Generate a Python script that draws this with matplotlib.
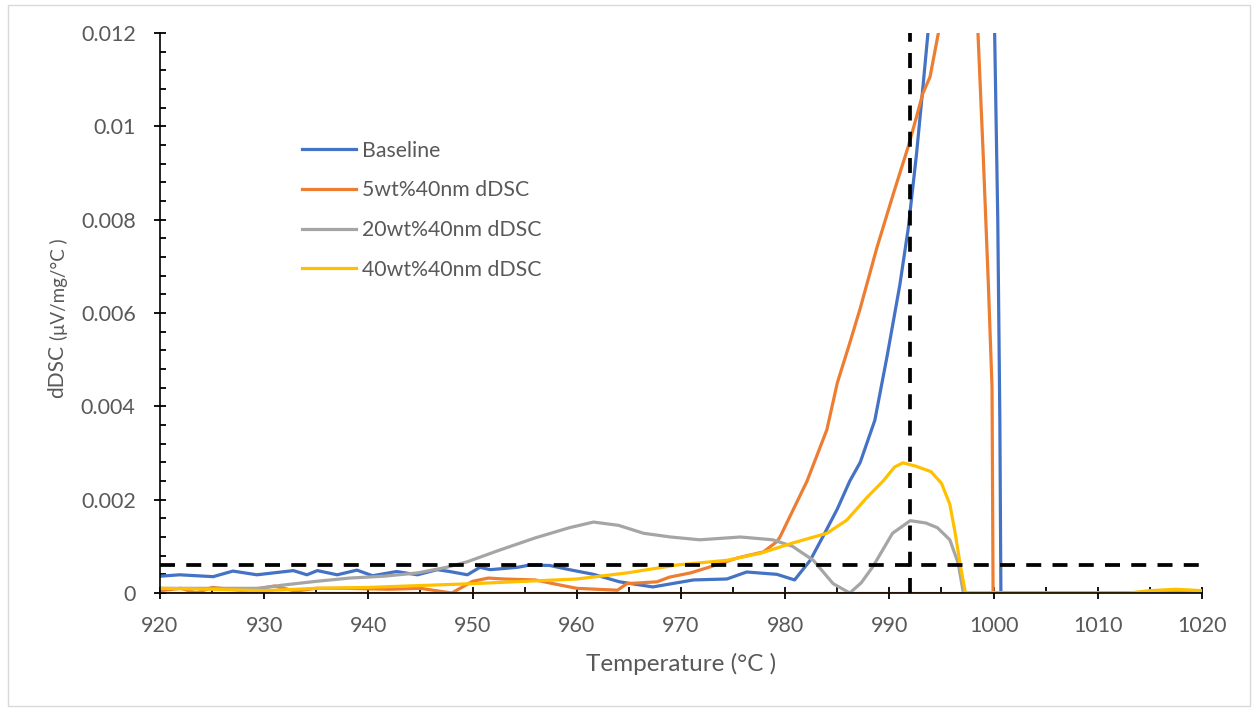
import matplotlib.pyplot as plt
from matplotlib.patches import Rectangle
from matplotlib.ticker import MultipleLocator

# data (temperature in degC, dDSC in uV/mg/degC)
base_t = [920, 921.9, 925.1, 927.0, 929.3, 932.8, 934.1, 935.1, 937.0, 938.9, 940.4, 942.7,
          944.7, 946.6, 947.8, 949.5, 950.7, 951.7, 954.3, 955.5, 957.4, 959.3, 961.6, 964.1,
          967.3, 971.2, 974.4, 976.3, 979.2, 980.9, 982.4, 983.6, 985.0, 986.2, 987.2, 988.6,
          989.8, 991.0, 991.8, 992.6, 993.2, 993.7, 994.5, 997.0, 999.6, 1000.1, 1000.4,
          1000.6, 1000.7, 1020]
base_y = [0.00036, 0.00039, 0.00035, 0.00047, 0.00039, 0.00048, 0.00039, 0.00048, 0.00039,
          0.00049, 0.00037, 0.00046, 0.00039, 0.00050, 0.00046, 0.00039, 0.00055, 0.00050,
          0.00055, 0.00060, 0.00059, 0.00050, 0.00040, 0.00024, 0.00013, 0.00028, 0.00030,
          0.00045, 0.00040, 0.00028, 0.00070, 0.00120, 0.00180, 0.00240, 0.00280, 0.00370,
          0.00510, 0.00660, 0.00780, 0.00940, 0.01080, 0.01200, 0.01500, 0.02000, 0.01600,
          0.01200, 0.00800, 0.00370, 0.0, 0.0]

w5_t = [920, 922, 923.5, 925, 928, 931, 933, 935, 938, 942, 945, 948, 950, 951.5, 953, 956,
        958.4, 960, 963.9, 964.8, 967.7, 968.9, 970.9, 972.8, 975.4, 977.9, 979.2, 979.5,
        982.1, 984, 985, 986.2, 987.2, 988.8, 990.4, 991.8, 992.6, 993.2, 993.9, 994.7,
        995.5, 997, 998.0, 998.5, 999.0, 999.5, 999.85, 999.95, 1020]
w5_y = [0.00005, 0.0001, 0.0, 0.00012, 0.00005, 0.00015, 0.00004, 0.0001, 0.0001, 0.00008,
        0.0001, 0.0, 0.00025, 0.00032, 0.0003, 0.00028, 0.00017, 0.0001, 0.00006, 0.0002,
        0.00024, 0.00034, 0.00043, 0.00056, 0.00075, 0.00088, 0.0011, 0.0012, 0.0024, 0.0035,
        0.0045, 0.00536, 0.0061, 0.0074, 0.00857, 0.00956, 0.0102, 0.0107, 0.01106, 0.0120,
        0.0150, 0.0200, 0.0160, 0.0120, 0.0094, 0.0066, 0.0044, 0.0, 0.0]
w5_floor_t = [920, 1020]
w5_floor_y = [0.0, 0.0]

w20_t = [920, 925, 929.6, 931.8, 935, 938.2, 941.5, 944.7, 947.5, 949.5, 952.6, 956, 959.3,
         961.6, 964, 966.4, 969, 971.8, 975.7, 978.8, 980.7, 982.7, 984.6, 986.2, 987.3, 988.4,
         990.3, 992.0, 993.5, 994.6, 995.8, 996.6, 997.1, 1014, 1017, 1020]
w20_y = [0.0001, 0.0001, 0.0001, 0.00017, 0.00025, 0.00032, 0.00036, 0.00043, 0.00055,
         0.00067, 0.00092, 0.00118, 0.0014, 0.00152, 0.00145, 0.00128, 0.0012, 0.00114,
         0.0012, 0.00114, 0.001, 0.0007, 0.0002, 0.0, 0.00022, 0.00056, 0.00128, 0.00155,
         0.0015, 0.0014, 0.00114, 0.00064, 0.0, 0.0, 0.00003, 0.00002]

w40_t = [920, 925, 930, 935, 940, 945, 950, 955, 960, 964.8, 969.6, 974.4, 977.6, 980.7,
         984.0, 985.9, 987.9, 989.4, 990.5, 991.3, 992.5, 994.0, 995.0, 995.8, 996.3, 996.8,
         997.3, 1013, 1015, 1017.5, 1020]
w40_y = [0.0001, 0.00008, 0.00005, 0.0001, 0.00012, 0.00016, 0.0002, 0.00025, 0.0003,
         0.00043, 0.0006, 0.0007, 0.00085, 0.00107, 0.00128, 0.00156, 0.00206, 0.0024, 0.0027,
         0.00279, 0.00272, 0.0026, 0.00235, 0.0019, 0.0013, 0.0006, 0.0, 0.0, 0.00005,
         0.00008, 0.00005]

# reference dashed guide lines
h_guide_t = [920, 1020]
h_guide_y = [0.0006, 0.0006]
v_guide_t = [992, 992]
v_guide_y = [0.0, 0.012]

blue = '#4472C4'
orange = '#ED7D31'
gray = '#A5A5A5'
yellow = '#FFC000'
txt = '#595959'

plt.rcParams['font.family'] = ['Lato', 'DejaVu Sans']

fig = plt.figure(figsize=(12.53, 7.10), dpi=100)
ax = fig.add_axes([160 / 1253, 1 - 593 / 710, 1042 / 1253, 560 / 710])

lw = 2.3
ax.plot(w5_floor_t, w5_floor_y, color=orange, lw=lw, solid_capstyle='butt')
ax.plot(base_t, base_y, color=blue, lw=lw, label='Baseline')
ax.plot(w5_t, w5_y, color=orange, lw=lw, label='5wt%40nm dDSC')
ax.plot(w20_t, w20_y, color=gray, lw=lw, label='20wt%40nm dDSC')
ax.plot(w40_t, w40_y, color=yellow, lw=lw, label='40wt%40nm dDSC')
ax.plot(h_guide_t, h_guide_y, color='black', lw=2.7, dashes=(4, 3))
ax.plot(v_guide_t, v_guide_y, color='black', lw=2.7, dashes=(4, 3))

ax.set_xlim(920, 1020)
ax.set_ylim(0, 0.012)
ax.xaxis.set_major_locator(MultipleLocator(10))
ax.xaxis.set_minor_locator(MultipleLocator(5))
ax.yaxis.set_minor_locator(MultipleLocator(0.0004))
ax.set_yticks([0, 0.002, 0.004, 0.006, 0.008, 0.01, 0.012])
ax.set_yticklabels(['0', '0.002', '0.004', '0.006', '0.008', '0.01', '0.012'])

for s in ['top', 'right']:
    ax.spines[s].set_visible(False)
for s in ['left', 'bottom']:
    ax.spines[s].set_color('black')
    ax.spines[s].set_linewidth(1.2)
ax.tick_params(which='major', direction='inout', length=9, width=1.3, color='black',
               labelsize=15.5, labelcolor=txt)
ax.tick_params(axis='y', which='major', pad=13)
ax.tick_params(axis='x', which='major', pad=12)
ax.tick_params(which='minor', direction='in', length=4, width=1.3, color='black')

ax.set_xlabel('Temperature (°C )', fontsize=17.5, color=txt, labelpad=12)

# y label: large "dDSC" and smaller unit part, stacked upward
fig.text(57 / 1253, 1 - 398 / 710, 'dDSC', rotation=90, ha='center', va='bottom',
         fontsize=15, color=txt)
fig.text(59 / 1253, 1 - 340 / 710, '(μV/mg/°C )', rotation=90, ha='center', va='bottom',
         fontsize=13.5, color=txt)

leg = ax.legend(loc='upper left', bbox_to_anchor=(0.118, 0.842), frameon=False,
                fontsize=15.3, labelspacing=0.93, handlelength=2.55, handletextpad=0.25)
for t in leg.get_texts():
    t.set_color(txt)

# chart area border
fig.patches.append(Rectangle((8 / 1253, 4 / 710), 1242 / 1253, 701 / 710,
                             transform=fig.transFigure, fill=False,
                             edgecolor='#D9D9D9', lw=1))

fig.savefig('out.png', dpi=100)
